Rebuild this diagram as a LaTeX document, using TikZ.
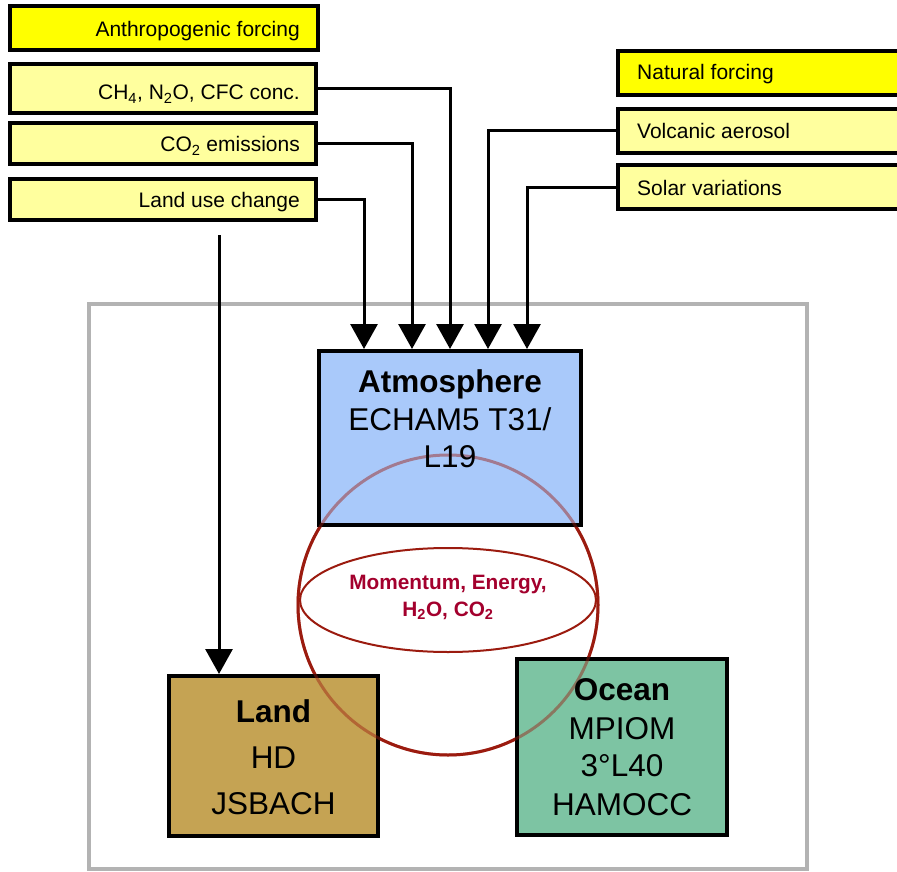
\documentclass[tikz,border=0pt]{standalone}
\usepackage{fontspec}
\setmainfont{Liberation Sans}
\usetikzlibrary{arrows.meta}
\definecolor{forcingY}{HTML}{FFFF00}
\definecolor{lightY}{HTML}{FFFF9E}
\definecolor{atmBlue}{HTML}{A9C9FA}
\definecolor{landC}{HTML}{C5A353}
\definecolor{oceanC}{HTML}{7DC4A3}
\definecolor{circRed}{HTML}{9B1B0F}
\definecolor{txtRed}{HTML}{A3002D}
\definecolor{frameGray}{HTML}{B3B3B3}
\begin{document}
\begin{tikzpicture}[x=1pt,y=-1pt,
  fbox/.style={draw=black, line width=4pt, inner sep=0pt},
  ftext/.style={inner sep=0pt, font=\fontsize{21}{25}\selectfont},
  mbox/.style={draw=black, line width=4pt, inner sep=0pt},
  mbold/.style={inner sep=0pt, anchor=base, font=\fontsize{31.5}{37}\selectfont\bfseries},
  mtext/.style={inner sep=0pt, anchor=base, font=\fontsize{31.5}{37}\selectfont},
  etext/.style={inner sep=0pt, anchor=base, text=txtRed, font=\fontsize{20.8}{25}\selectfont\bfseries},
  arr/.style={line width=3pt, -{Triangle[length=25pt,width=27pt]}},
  conn/.style={line width=3pt}]
\useasboundingbox (0,0) rectangle (897,872);

% frame
\draw[frameGray, line width=4pt] (89,304) rectangle (807,869);

% exchange circle (underneath boxes)
\draw[circRed, line width=3pt] (448,605) circle[radius=150];

% left forcing boxes
\node[fbox, fill=forcingY, minimum width=308pt, minimum height=44pt] (anth) at (164,28) {};
\node[fbox, fill=lightY, minimum width=306pt, minimum height=49pt] (ch4) at (163,88.5) {};
\node[fbox, fill=lightY, minimum width=306pt, minimum height=41pt] (co2) at (163,143.5) {};
\node[fbox, fill=lightY, minimum width=306pt, minimum height=41pt] (lu) at (163,199.5) {};
\node[ftext, anchor=base east] (anthT) at (300,36.7) {Anthropogenic forcing};
\node[ftext, anchor=base east] (ch4T) at (300,100) {CH\textsubscript{4}, N\textsubscript{2}O, CFC conc.};
\node[ftext, anchor=base east] (co2T) at (300,152) {CO\textsubscript{2} emissions};
\node[ftext, anchor=base east] (luT) at (300,207) {Land use change};

% right forcing boxes
\node[fbox, fill=forcingY, minimum width=290pt, minimum height=44pt] (nat) at (763,73) {};
\node[fbox, fill=lightY, minimum width=290pt, minimum height=44pt] (volc) at (763,131) {};
\node[fbox, fill=lightY, minimum width=290pt, minimum height=44pt] (sol) at (763,187) {};
\node[ftext, anchor=base west] (natT) at (637,80) {Natural forcing};
\node[ftext, anchor=base west] (volcT) at (637,139) {Volcanic aerosol};
\node[ftext, anchor=base west] (solT) at (637,196) {Solar variations};

% model component boxes
\node[mbox, fill=atmBlue, minimum width=262pt, minimum height=174pt] (atm) at (450,438) {};
\node[mbox, fill=landC, minimum width=209pt, minimum height=160pt] (land) at (273.5,756) {};
\node[mbox, fill=oceanC, minimum width=210pt, minimum height=176pt] (ocean) at (622,747) {};

% circle seen through the boxes
\draw[circRed, line width=3pt, draw opacity=0.45] (448,605) circle[radius=150];

% inner exchange ellipse
\draw[circRed, line width=2pt] (448,600) ellipse[x radius=148, y radius=52];
\node[etext] (ex1) at (448,589) {Momentum, Energy,};
\node[etext] (ex2) at (448,616) {H\textsubscript{2}O, CO\textsubscript{2}};

% box texts
\node[mbold] (atmT1) at (450,392) {Atmosphere};
\node[mtext] (atmT2) at (450,430) {ECHAM5 T31/};
\node[mtext] (atmT3) at (450,467) {L19};
\node[mbold] (landT1) at (273.5,722) {Land};
\node[mtext] (landT2) at (273.5,768) {HD};
\node[mtext] (landT3) at (273.5,814) {JSBACH};
\node[mbold] (ocT1) at (622,700) {Ocean};
\node[mtext] (ocT2) at (622,739) {MPIOM};
\node[mtext] (ocT3) at (622,776) {3°L40};
\node[mtext] (ocT4) at (622,815) {HAMOCC};

% connectors
\coordinate (luStart) at (219,235);
\draw[arr] (luStart) -- (luStart |- land.north);
\draw[arr] (lu.east) -| ([xshift=-86pt]atm.north);
\draw[arr] (co2.east) -| ([xshift=-38pt]atm.north);
\draw[arr] (ch4.east) -| (atm.north);
\draw[arr] (volc.west) -| ([xshift=38pt]atm.north);
\draw[arr] (sol.west) -| ([xshift=77pt]atm.north);
\end{tikzpicture}
\end{document}
